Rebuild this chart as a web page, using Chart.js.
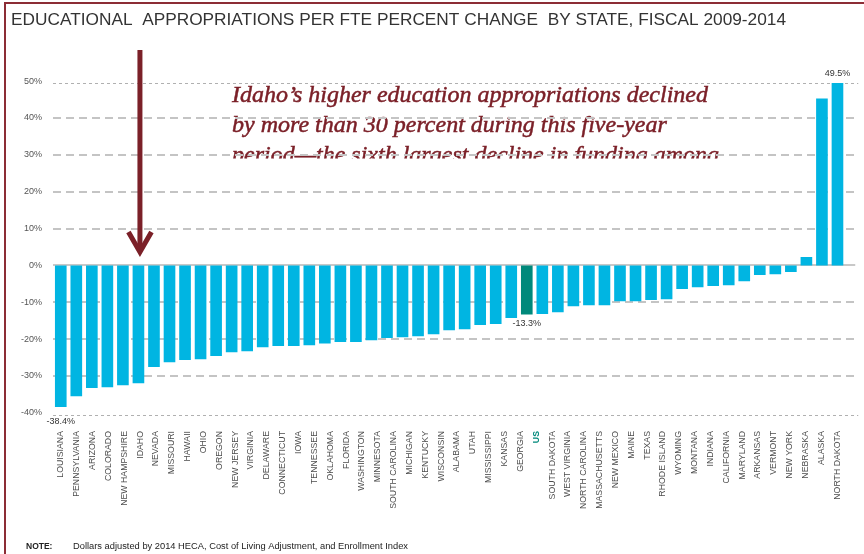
<!DOCTYPE html>
<html>
<head>
<meta charset="utf-8">
<title>Educational appropriations per FTE</title>
<script src="https://cdn.jsdelivr.net/npm/chart.js@4.4.1/dist/chart.umd.min.js"></script>
<style>
  html, body { margin: 0; padding: 0; background: #fff; }
  canvas { display: block; }
</style>
</head>
<body>
<canvas id="fteChart" width="864" height="554"></canvas>
<script>
// Tick labels along the bottom (state names, plus the national figure)
const states = [
  'LOUISIANA', 'PENNSYLVANIA', 'ARIZONA', 'COLORADO', 'NEW HAMPSHIRE', 'IDAHO',
  'NEVADA', 'MISSOURI', 'HAWAII', 'OHIO', 'OREGON', 'NEW JERSEY', 'VIRGINIA',
  'DELAWARE', 'CONNECTICUT', 'IOWA', 'TENNESSEE', 'OKLAHOMA', 'FLORIDA',
  'WASHINGTON', 'MINNESOTA', 'SOUTH CAROLINA', 'MICHIGAN', 'KENTUCKY',
  'WISCONSIN', 'ALABAMA', 'UTAH', 'MISSISSIPPI', 'KANSAS', 'GEORGIA', 'US',
  'SOUTH DAKOTA', 'WEST VIRGINIA', 'NORTH CAROLINA', 'MASSACHUSETTS',
  'NEW MEXICO', 'MAINE', 'TEXAS', 'RHODE ISLAND', 'WYOMING', 'MONTANA',
  'INDIANA', 'CALIFORNIA', 'MARYLAND', 'ARKANSAS', 'VERMONT', 'NEW YORK',
  'NEBRASKA', 'ALASKA', 'NORTH DAKOTA'
];

// Percent change 2009-2014, one bar each, in plotted order
const changes = [
  -38.4, -35.5, -33.3, -33.1, -32.5, -32.0, -27.6, -26.3, -25.7, -25.5,
  -24.6, -23.6, -23.3, -22.2, -21.9, -21.9, -21.7, -21.2, -20.8, -20.8,
  -20.3, -19.7, -19.5, -19.2, -18.7, -17.6, -17.3, -16.2, -15.9, -14.3,
  -13.3, -13.2, -12.7, -11.1, -10.8, -10.8, -9.7, -9.7, -9.4, -9.2,
  -6.4, -5.9, -5.6, -5.4, -4.3, -2.6, -2.4, -1.8, 2.3, 45.3, 49.5
];

const yTicks = [-40, -30, -20, -10, 0, 10, 20, 30, 40, 50];
const usIndex = 30;
const idahoIndex = 5;
const labelledBars = [0, 30, 50];

const BLUE = '#00B5E2';
const TEAL = '#00897B';
const MAROON = '#7B2028';
const SANS = "'Liberation Sans', Arial, sans-serif";

const callout = [
  'Idaho\u2019s higher education appropriations declined',
  'by more than 30 percent during this five-year',
  'period\u2014the sixth largest decline in funding among'
];

Chart.defaults.font.family = SANS;

function fitText(ctx, text, x, y, width) {
  const w = ctx.measureText(text).width;
  ctx.save();
  ctx.translate(x, y);
  ctx.scale(width / w, 1);
  ctx.fillText(text, 0, 0);
  ctx.restore();
}

const dressing = {
  id: 'dressing',
  beforeDraw(chart) {
    const ctx = chart.ctx;
    ctx.save();
    // frame
    ctx.strokeStyle = '#8C2D35';
    ctx.lineWidth = 2;
    ctx.beginPath();
    ctx.moveTo(5, 554);
    ctx.lineTo(5, 3);
    ctx.lineTo(864, 3);
    ctx.stroke();
    // title
    ctx.fillStyle = '#333';
    ctx.font = "17px 'Liberation Sans Narrow', 'Liberation Sans', Arial, sans-serif";
    ctx.textBaseline = 'middle';
    fitText(ctx, 'EDUCATIONAL  APPROPRIATIONS PER FTE PERCENT CHANGE  BY STATE, FISCAL 2009-2014', 11, 20.5, 775);
    // note
    ctx.font = 'bold 8.5px ' + SANS;
    ctx.fillStyle = '#222';
    ctx.fillText('NOTE:', 26, 546.5);
    ctx.font = '8.5px ' + SANS;
    fitText(ctx, 'Dollars adjusted by 2014 HECA, Cost of Living Adjustment, and Enrollment Index', 73, 546.5, 335);
    ctx.restore();
  },
  beforeDatasetsDraw(chart) {
    const ctx = chart.ctx;
    const y = chart.scales.y;
    const { left, right, top, bottom } = chart.chartArea;
    ctx.save();

    // callout text, cut off at the bottom
    ctx.save();
    ctx.beginPath();
    ctx.rect(0, 0, 864, 158.5);
    ctx.clip();
    ctx.fillStyle = MAROON;
    ctx.strokeStyle = MAROON;
    ctx.lineWidth = 0.5;
    ctx.font = "italic 24px 'Liberation Serif', 'DejaVu Serif', serif";
    ctx.textBaseline = 'alphabetic';
    callout.forEach((line, i) => {
      ctx.fillText(line, 232, 101.5 + i * 30);
      ctx.strokeText(line, 232, 101.5 + i * 30);
    });
    ctx.restore();

    // grid: dashed between the ends, solid at zero, dotted at top and bottom
    yTicks.forEach(v => {
      if (v <= -40 || v >= 50) return;
      const py = Math.round(y.getPixelForValue(v));
      ctx.beginPath();
      if (v === 0) {
        ctx.setLineDash([]);
        ctx.strokeStyle = '#C8C8C8';
      } else {
        ctx.setLineDash([8, 5]);
        ctx.strokeStyle = '#C4C4C4';
      }
      ctx.lineWidth = 2;
      ctx.moveTo(left, py);
      ctx.lineTo(right + 10, py);
      ctx.stroke();
    });
    ctx.setLineDash([3, 3]);
    ctx.lineWidth = 1;
    ctx.strokeStyle = '#B0B0B0';
    [top, bottom].forEach(py => {
      ctx.beginPath();
      ctx.moveTo(left, Math.round(py) + 0.5);
      ctx.lineTo(right + 13, Math.round(py) + 0.5);
      ctx.stroke();
    });
    ctx.restore();
  },
  afterDatasetsDraw(chart) {
    const ctx = chart.ctx;
    const bars = chart.getDatasetMeta(0).data;
    ctx.save();

    // value labels
    ctx.font = '9px ' + SANS;
    ctx.fillStyle = '#333';
    ctx.textAlign = 'center';
    ctx.textBaseline = 'middle';
    labelledBars.forEach(i => {
      const bar = bars[i];
      const v = changes[i];
      const gap = i === 0 ? 14.5 : 9.5;
      const py = v < 0 ? bar.y + gap : bar.y - gap;
      ctx.fillText(v.toFixed(1) + '%', bar.x, py);
    });

    // arrow pointing at Idaho
    const ax = bars[idahoIndex].x + 1.5;
    ctx.strokeStyle = MAROON;
    ctx.lineWidth = 5;
    ctx.lineCap = 'butt';
    ctx.lineJoin = 'miter';
    ctx.beginPath();
    ctx.moveTo(ax, 50);
    ctx.lineTo(ax, 250);
    ctx.stroke();
    ctx.beginPath();
    ctx.moveTo(ax - 11.5, 232);
    ctx.lineTo(ax, 252);
    ctx.lineTo(ax + 11.5, 232);
    ctx.stroke();
    ctx.restore();
  }
};

new Chart(document.getElementById('fteChart').getContext('2d'), {
  type: 'bar',
  data: {
    labels: changes.map((_, i) => i),
    datasets: [{
      data: changes,
      backgroundColor: changes.map((_, i) => i === usIndex ? TEAL : BLUE),
      barPercentage: 0.75,
      categoryPercentage: 1,
      xAxisID: 'x',
      yAxisID: 'y'
    }]
  },
  options: {
    responsive: false,
    animation: false,
    layout: { padding: { left: 0, right: 18, top: 83, bottom: 0 } },
    plugins: {
      legend: { display: false },
      tooltip: { enabled: false }
    },
    scales: {
      x: { display: false, offset: true },
      xs: {
        type: 'category',
        labels: states,
        position: 'bottom',
        offset: true,
        grid: { display: false, drawTicks: false },
        border: { display: false },
        ticks: {
          autoSkip: false,
          minRotation: 90,
          maxRotation: 90,
          padding: 16,
          color: c => c.index === usIndex ? TEAL : '#4D4D4D',
          font: c => ({ size: 8.75, family: SANS, weight: c.index === usIndex ? 'bold' : 'normal' })
        },
        afterFit: s => { s.height = 139; }
      },
      y: {
        min: -40.6,
        max: Math.max(...changes),
        afterBuildTicks: s => { s.ticks = yTicks.map(v => ({ value: v })); },
        grid: { display: false, drawTicks: false },
        border: { display: false },
        ticks: {
          padding: 11,
          color: '#555',
          font: { size: 9 },
          callback: v => v + '%'
        },
        afterFit: s => { s.width = 53; }
      }
    }
  },
  plugins: [dressing]
});
</script>
</body>
</html>
